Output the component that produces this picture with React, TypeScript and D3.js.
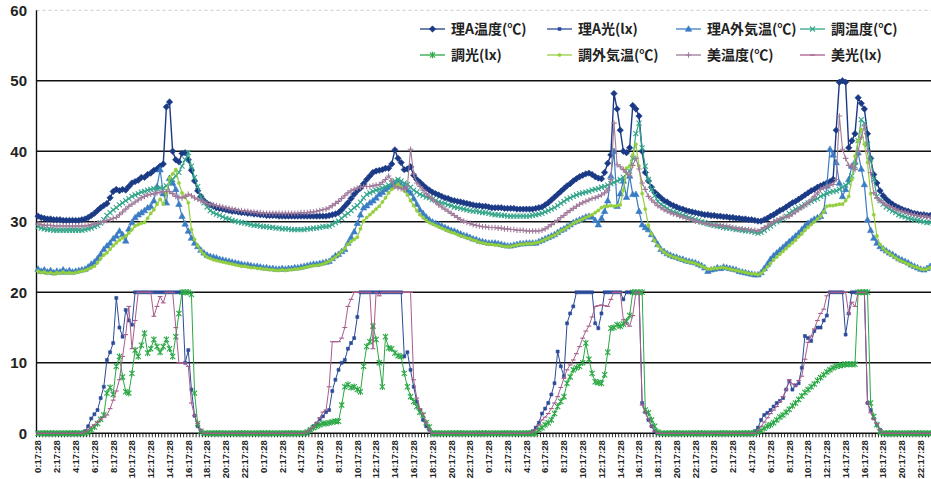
import * as d3 from 'd3';

const WIDTH = 931;
const HEIGHT = 479;

// x axis: one label every 2 hours, samples every 20 minutes, 4 days
const HOUR_LABELS = [
  '0:17:28', '2:17:28', '4:17:28', '6:17:28', '8:17:28', '10:17:28',
  '12:17:28', '14:17:28', '16:17:28', '18:17:28', '20:17:28', '22:17:28',
];
const DAYS = 4;
const SAMPLES_PER_LABEL = 6;
const Y_TICKS = [0, 10, 20, 30, 40, 50, 60];

// 理A温度(℃)
const riATemp = [
  30.8, 30.6, 30.5, 30.4, 30.4, 30.3, 30.3, 30.3, 30.2, 30.2,
  30.2, 30.2, 30.2, 30.2, 30.3, 30.4, 30.6, 30.9, 31.2, 31.6,
  32.0, 32.3, 32.6, 33.4, 34.3, 34.6, 34.4, 34.6, 34.5, 35.0,
  35.5, 35.7, 35.9, 36.3, 36.3, 36.7, 36.9, 37.3, 37.5, 37.9,
  38.2, 46.3, 47.0, 40.0, 38.8, 38.5, 39.7, 39.8, 38.8, 37.3,
  35.8, 34.4, 33.6, 33.0, 32.6, 32.4, 32.2, 32.0, 31.9, 31.8,
  31.7, 31.6, 31.5, 31.5, 31.4, 31.3, 31.3, 31.2, 31.2, 31.1,
  31.1, 31.0,
  31.0, 30.9, 30.9, 30.9, 30.9, 30.8, 30.8, 30.8, 30.8, 30.8,
  30.8, 30.8, 30.8, 30.8, 30.8, 30.8, 30.8, 30.8, 30.8, 30.8,
  30.8, 30.9, 31.0, 31.1, 31.3, 31.7, 32.2, 32.7, 33.3, 33.9,
  34.4, 34.8, 35.4, 36.0, 36.5, 37.0, 37.2, 37.3, 37.4, 37.6,
  37.6, 38.2, 40.2, 39.0, 38.4, 37.4, 37.5, 37.8, 36.6, 36.0,
  35.6, 35.2, 34.8, 34.5, 34.2, 34.0, 33.8, 33.6, 33.4, 33.3,
  33.1, 33.0, 32.9, 32.8, 32.7, 32.6, 32.5, 32.4, 32.3, 32.3,
  32.2, 32.2,
  32.1, 32.0, 32.0, 32.0, 32.0, 31.9, 31.9, 31.9, 31.9, 31.8,
  31.8, 31.8, 31.8, 31.8, 31.8, 31.9, 32.0, 32.1, 32.4, 32.7,
  33.1, 33.5, 33.9, 34.3, 34.7, 35.1, 35.4, 35.8, 36.1, 36.4,
  36.6, 36.8, 36.9, 36.7, 36.4, 36.2, 36.1, 37.0, 38.3, 39.5,
  48.2, 46.0, 43.0, 40.0, 39.8, 40.5, 46.5, 46.0, 45.0, 40.0,
  37.0, 35.8, 34.9, 34.2, 33.8, 33.4, 33.0, 32.8, 32.5, 32.3,
  32.1, 31.9, 31.8, 31.6, 31.5, 31.4, 31.3, 31.2, 31.1, 31.0,
  31.0, 30.9,
  30.9, 30.8, 30.8, 30.7, 30.7, 30.6, 30.6, 30.5, 30.5, 30.4,
  30.4, 30.3, 30.3, 30.2, 30.1, 30.1, 30.3, 30.5, 30.8, 31.0,
  31.3, 31.6, 31.8, 32.1, 32.4, 32.7, 32.9, 33.2, 33.5, 33.8,
  34.1, 34.4, 34.6, 34.9, 35.1, 35.3, 35.5, 35.7, 36.0, 43.0,
  49.8, 50.0, 49.8, 40.5, 41.5, 42.5, 47.6, 46.8, 46.0, 42.5,
  39.0, 36.7, 35.5, 34.4, 33.7, 33.2, 32.8, 32.5, 32.2, 32.0,
  31.8, 31.6, 31.5, 31.3, 31.2, 31.1, 31.0, 31.0, 30.9, 30.9,
  30.8, 30.8,
];

// 理A光(lx)
const riALight = [
  0, 0, 0, 0, 0, 0, 0, 0, 0, 0,
  0, 0, 0, 0, 0, 0.3, 1.0, 2.1, 2.7, 3.3,
  5.0, 6.6, 10.4, 11.5, 12.8, 19.2, 15.0, 13.7, 17.5, 16.0,
  15.4, 20, 20, 20, 20, 20, 20, 20, 20, 20,
  20, 20, 20, 20, 20, 20, 20, 10.0, 11.8, 6.2,
  2.5, 1.0, 0.3, 0, 0, 0, 0, 0, 0, 0,
  0, 0, 0, 0, 0, 0, 0, 0, 0, 0,
  0, 0,
  0, 0, 0, 0, 0, 0, 0, 0, 0, 0,
  0, 0, 0, 0, 0, 0.5, 1.0, 1.4, 2.0, 2.4,
  3.0, 3.3, 6.0, 7.6, 9.0, 10.0, 10.4, 12.0, 12.8, 13.5,
  16.5, 20, 20, 20, 20, 20, 20, 20, 20, 20,
  20, 20, 20, 20, 20, 10.9, 11.5, 9.0, 6.6, 4.5,
  3.3, 1.9, 1.0, 0.5, 0, 0, 0, 0, 0, 0,
  0, 0, 0, 0, 0, 0, 0, 0, 0, 0,
  0, 0,
  0, 0, 0, 0, 0, 0, 0, 0, 0, 0,
  0, 0, 0, 0, 0.3, 0.8, 1.5, 2.8, 3.5, 4.3,
  5.5, 7.1, 11.6, 9.5, 8.1, 15.6, 17.0, 18.0, 20, 20,
  20, 20, 20, 20, 15.6, 14.9, 17.0, 20, 20, 20,
  20, 20, 20, 19.0, 20, 20, 20, 20, 20, 4.3,
  3.0, 1.9, 1.0, 0.3, 0, 0, 0, 0, 0, 0,
  0, 0, 0, 0, 0, 0, 0, 0, 0, 0,
  0, 0,
  0, 0, 0, 0, 0, 0, 0, 0, 0, 0,
  0, 0, 0, 0.3, 0.8, 1.9, 2.6, 2.9, 3.3, 3.8,
  4.3, 4.6, 5.0, 6.2, 7.4, 6.2, 6.8, 7.1, 9.3, 13.8,
  13.5, 13.1, 14.5, 15.0, 15.0, 16.0, 16.7, 20, 20, 20,
  20, 20, 14.0, 17.0, 20, 20, 20, 20, 20, 4.3,
  3.3, 2.1, 1.2, 0.5, 0, 0, 0, 0, 0, 0,
  0, 0, 0, 0, 0, 0, 0, 0, 0, 0,
  0, 0,
];

// 理A外気温(℃)
const riAOutdoor = [
  23.3, 23.0, 23.2, 22.9, 23.1, 22.8, 23.0, 22.9, 23.2, 22.9,
  23.1, 22.9, 23.0, 23.1, 23.2, 23.3, 23.6, 24.0, 24.3, 24.8,
  25.4, 26.1, 26.6, 27.0, 27.6, 28.0, 28.7, 28.2, 27.3, 29.0,
  29.9, 30.6, 31.0, 31.3, 31.6, 32.0, 32.2, 33.0, 35.0, 37.4,
  34.0, 32.7, 36.2, 35.5, 34.6, 32.5, 30.8, 29.7, 28.7, 27.7,
  27.0, 26.5, 26.0, 25.6, 25.3, 25.1, 25.0, 24.9, 24.7, 24.6,
  24.5, 24.4, 24.3, 24.2, 24.1, 24.0, 23.9, 23.9, 23.8, 23.7,
  23.7, 23.6,
  23.5, 23.5, 23.4, 23.4, 23.3, 23.3, 23.4, 23.3, 23.4, 23.4,
  23.5, 23.5, 23.6, 23.7, 23.8, 23.9, 24.0, 24.0, 24.1, 24.2,
  24.3, 24.4, 24.8, 25.2, 25.4, 25.8, 26.1, 27.0, 27.8, 28.6,
  29.8, 31.0, 32.0, 32.3, 32.7, 33.0, 33.4, 33.9, 34.2, 34.6,
  34.9, 35.0, 35.3, 35.5, 35.2, 34.9, 34.5, 34.1, 33.3, 32.5,
  31.7, 31.2, 30.7, 30.3, 30.0, 29.8, 29.6, 29.4, 29.2, 29.0,
  28.8, 28.7, 28.5, 28.3, 28.1, 28.0, 27.8, 27.6, 27.5, 27.3,
  27.2, 27.1,
  27.0, 27.0, 27.0, 26.9, 26.8, 26.7, 26.6, 26.6, 26.7, 26.8,
  26.9, 26.9, 27.0, 27.0, 27.0, 27.0, 27.2, 27.4, 27.6, 27.8,
  28.0, 28.2, 28.5, 28.8, 29.0, 29.3, 29.6, 29.9, 30.1, 30.3,
  30.5, 30.7, 30.8, 30.7, 30.2, 29.6, 30.5, 31.5, 33.0, 36.5,
  40.0, 32.2, 34.0, 35.8, 33.5, 36.5, 33.9, 33.9, 31.5, 29.6,
  29.2, 28.9, 28.2, 27.5, 26.8, 26.1, 25.8, 25.5, 25.3, 25.1,
  25.0, 24.8, 24.7, 24.5, 24.4, 24.3, 24.2, 24.0, 23.8, 23.5,
  23.0, 23.2,
  23.3, 23.5, 23.4, 23.6, 23.5, 23.4, 23.3, 23.2, 23.0, 22.9,
  22.8, 22.7, 22.6, 22.5, 22.5, 22.8, 23.4, 24.0, 24.7, 25.2,
  25.6, 26.0, 26.4, 26.8, 27.2, 27.6, 28.0, 28.4, 28.9, 29.4,
  29.8, 30.1, 30.4, 30.6, 30.8, 31.5, 35.1, 40.3, 39.5, 38.4,
  35.5, 33.6, 34.6, 36.0, 37.9, 38.5, 39.8, 37.5, 35.3, 30.3,
  28.8, 27.7, 27.0, 26.5, 26.2, 25.9, 25.6, 25.4, 25.1, 24.8,
  24.6, 24.4, 24.2, 23.9, 23.7, 23.5, 23.3, 23.2, 23.4, 23.7,
  23.6, 23.8,
];

// 調温度(℃)
const choTemp = [
  29.3, 29.1, 29.0, 28.9, 28.9, 28.8, 28.8, 28.8, 28.8, 28.8,
  28.8, 28.8, 28.8, 28.8, 28.8, 28.9, 29.0, 29.1, 29.3, 29.5,
  29.8, 30.3, 30.9, 31.3, 31.7, 32.0, 32.4, 32.7, 33.0, 33.3,
  33.6, 33.8, 34.0, 34.2, 34.3, 34.5, 34.6, 34.7, 34.7, 34.8,
  34.8, 35.1, 35.6, 36.0, 36.5, 37.0, 37.9, 38.8, 39.8, 37.9,
  36.3, 35.0, 33.5, 32.7, 32.1, 31.6, 31.3, 31.1, 30.9, 30.7,
  30.5, 30.4, 30.2, 30.1, 30.0, 29.9, 29.8, 29.7, 29.6, 29.5,
  29.5, 29.4,
  29.3, 29.3, 29.2, 29.2, 29.1, 29.1, 29.0, 29.0, 29.0, 28.9,
  28.9, 28.9, 28.9, 28.9, 29.0, 29.0, 29.1, 29.1, 29.2, 29.3,
  29.3, 29.4, 29.6, 29.9, 30.1, 30.5, 30.9, 31.2, 31.6, 32.0,
  32.3, 32.8, 33.4, 33.9, 34.1, 34.3, 34.5, 34.6, 34.8, 35.0,
  35.2, 35.5, 35.8, 36.0, 35.8, 35.5, 35.3, 34.9, 34.5, 34.2,
  33.9, 33.7, 33.5, 33.4, 33.2, 33.0, 32.8, 32.7, 32.6, 32.4,
  32.3, 32.1, 32.0, 31.9, 31.8, 31.7, 31.6, 31.5, 31.5, 31.4,
  31.3, 31.3,
  31.2, 31.1, 31.0, 31.0, 30.9, 30.9, 30.8, 30.8, 30.8, 30.8,
  30.8, 30.8, 30.8, 30.8, 30.9, 31.0, 31.1, 31.2, 31.4, 31.6,
  31.8, 32.0, 32.3, 32.6, 32.9, 33.2, 33.4, 33.6, 33.8, 34.0,
  34.1, 34.2, 34.3, 34.5, 34.6, 34.7, 34.9, 35.0, 35.2, 35.4,
  35.6, 35.8, 36.0, 36.3, 36.8, 37.2, 39.0, 42.5, 44.0, 40.5,
  37.9, 36.0, 34.6, 33.7, 32.9, 32.5, 32.2, 31.9, 31.6, 31.4,
  31.3, 31.1, 30.9, 30.8, 30.6, 30.5, 30.3, 30.2, 30.0, 29.9,
  29.7, 29.6,
  29.5, 29.4, 29.3, 29.2, 29.1, 29.1, 29.0, 28.9, 28.9, 28.8,
  28.7, 28.7, 28.6, 28.5, 28.4, 28.5, 28.8, 29.1, 29.4, 29.7,
  30.0, 30.2, 30.4, 30.8, 31.2, 31.5, 31.8, 32.0, 32.2, 32.4,
  32.7, 32.9, 33.1, 33.3, 33.6, 33.8, 34.0, 34.2, 34.3, 34.4,
  34.6, 34.9, 35.2, 35.5, 36.5, 37.9, 41.5, 44.5, 44.0, 41.0,
  38.9, 36.0, 33.6, 33.0, 32.5, 32.1, 31.8, 31.5, 31.3, 31.0,
  30.8, 30.7, 30.5, 30.4, 30.3, 30.2, 30.1, 30.0, 29.9, 29.9,
  29.8, 29.8,
];

// 調光(lx)
const choLight = [
  0, 0, 0, 0, 0, 0, 0, 0, 0, 0,
  0, 0, 0, 0, 0, 0, 0.2, 0.5, 0.9, 1.4,
  2.0, 2.6, 5.7, 6.5, 5.5, 9.5, 10.9, 8.0, 5.9, 5.7,
  8.5, 11.8, 10.9, 12.5, 14.2, 11.4, 12.0, 13.3, 12.3, 11.5,
  12.3, 13.3, 12.0, 10.9, 13.7, 17.0, 20, 20, 20, 19.7,
  5.7, 1.4, 0.3, 0, 0, 0, 0, 0, 0, 0,
  0, 0, 0, 0, 0, 0, 0, 0, 0, 0,
  0, 0,
  0, 0, 0, 0, 0, 0, 0, 0, 0, 0,
  0, 0, 0, 0, 0.2, 0.5, 0.8, 1.0, 1.2, 1.4,
  1.4, 1.5, 1.6, 1.7, 1.7, 4.0, 6.6, 6.9, 6.5, 6.6,
  6.2, 5.9, 9.5, 12.3, 13.0, 15.2, 13.3, 10.0, 6.6, 13.7,
  12.1, 12.0, 11.4, 11.0, 10.9, 8.5, 6.6, 5.2, 4.5, 3.8,
  3.0, 2.6, 1.5, 0.9, 0, 0, 0, 0, 0, 0,
  0, 0, 0, 0, 0, 0, 0, 0, 0, 0,
  0, 0,
  0, 0, 0, 0, 0, 0, 0, 0, 0, 0,
  0, 0, 0, 0, 0, 0, 0.5, 0.8, 1.2, 1.5,
  1.9, 2.8, 3.8, 4.5, 5.2, 7.1, 8.0, 9.0, 9.3, 9.5,
  10.0, 12.8, 10.5, 8.5, 7.3, 7.2, 7.1, 8.3, 11.5, 14.9,
  15.0, 15.4, 15.2, 15.5, 15.9, 16.7, 20, 20, 20, 20,
  3.3, 2.9, 1.9, 1.0, 0.2, 0, 0, 0, 0, 0,
  0, 0, 0, 0, 0, 0, 0, 0, 0, 0,
  0, 0,
  0, 0, 0, 0, 0, 0, 0, 0, 0, 0,
  0, 0, 0, 0, 0.2, 0.4, 0.7, 1.0, 1.2, 1.5,
  1.9, 2.3, 2.6, 3.0, 3.4, 3.9, 4.3, 4.8, 5.3, 5.8,
  6.2, 6.6, 7.0, 7.5, 7.9, 8.3, 8.7, 9.0, 9.3, 9.5,
  9.6, 9.7, 9.8, 9.8, 9.8, 9.8, 20, 20, 20, 20,
  4.3, 2.4, 1.2, 0.2, 0, 0, 0, 0, 0, 0,
  0, 0, 0, 0, 0, 0, 0, 0, 0, 0,
  0, 0,
];

// 調外気温(℃)
const choOutdoor = [
  23.0, 22.8, 22.9, 22.7, 22.8, 22.6, 22.8, 22.7, 22.9, 22.7,
  22.8, 22.7, 22.8, 22.9, 23.0, 23.1, 23.3, 23.5, 23.7, 24.2,
  24.8, 25.3, 25.6, 26.1, 26.6, 27.0, 27.4, 27.7, 28.0, 28.4,
  28.9, 29.4, 29.6, 29.8, 29.9, 30.5, 31.2, 31.7, 32.5, 33.2,
  32.5, 34.0, 36.2, 36.8, 37.4, 35.5, 34.1, 33.5, 32.7, 28.9,
  27.5, 26.6, 25.9, 25.4, 25.0, 24.8, 24.6, 24.5, 24.4, 24.3,
  24.2, 24.1, 24.0, 23.9, 23.8, 23.7, 23.7, 23.6, 23.5, 23.5,
  23.4, 23.4,
  23.3, 23.3, 23.2, 23.2, 23.1, 23.1, 23.2, 23.1, 23.2, 23.2,
  23.3, 23.3, 23.4, 23.5, 23.6, 23.7, 23.8, 23.8, 23.9, 24.0,
  24.2, 24.4, 24.7, 25.0, 25.4, 25.8, 26.2, 26.8, 27.2, 27.5,
  27.8, 29.0, 30.1, 30.6, 31.0, 31.4, 31.8, 32.2, 32.8, 33.4,
  34.1, 34.6, 35.0, 35.3, 35.0, 34.4, 33.8, 33.0, 32.3, 31.6,
  31.0, 30.6, 30.2, 29.9, 29.7, 29.5, 29.3, 29.1, 28.9, 28.7,
  28.5, 28.4, 28.2, 28.0, 27.9, 27.7, 27.6, 27.4, 27.3, 27.1,
  27.0, 26.9,
  26.8, 26.8, 26.7, 26.7, 26.6, 26.5, 26.5, 26.5, 26.6, 26.7,
  26.8, 26.8, 26.9, 26.9, 26.9, 27.0, 27.1, 27.3, 27.5, 27.7,
  27.9, 28.1, 28.4, 28.7, 28.9, 29.2, 29.5, 29.8, 30.0, 30.2,
  30.4, 30.6, 30.8, 31.0, 31.3, 31.6, 32.0, 32.2, 32.2, 32.3,
  32.2, 32.3, 32.4, 34.5, 37.6, 37.9, 39.5, 41.0, 37.9, 34.0,
  31.8, 29.5, 28.3, 27.3, 26.6, 26.1, 25.7, 25.4, 25.2, 25.0,
  24.9, 24.7, 24.6, 24.4, 24.3, 24.2, 24.1, 23.9, 23.7, 23.5,
  23.3, 23.3,
  23.4, 23.4, 23.5, 23.5, 23.4, 23.3, 23.2, 23.1, 23.0, 22.9,
  22.8, 22.7, 22.6, 22.6, 22.5, 22.7, 23.1, 23.6, 24.1, 24.6,
  25.0, 25.4, 25.8, 26.2, 26.6, 27.0, 27.4, 27.9, 28.3, 28.8,
  29.2, 29.6, 30.0, 30.4, 30.8, 31.4, 32.2, 32.3, 32.3, 32.4,
  32.5, 32.5, 33.0, 33.6, 36.0, 39.3, 41.5, 43.1, 41.0, 38.4,
  34.0, 31.0, 28.0, 26.8, 26.2, 25.8, 25.5, 25.2, 24.9, 24.6,
  24.4, 24.2, 24.0, 23.8, 23.6, 23.5, 23.3, 23.2, 23.3, 23.5,
  23.4, 23.5,
];

// 美温度(℃)
const biTemp = [
  29.7, 29.6, 29.5, 29.5, 29.5, 29.4, 29.4, 29.4, 29.4, 29.4,
  29.4, 29.4, 29.4, 29.4, 29.4, 29.4, 29.5, 29.6, 29.7, 29.8,
  29.9, 30.0, 30.2, 30.3, 30.5, 30.6, 31.0, 31.4, 31.8, 32.2,
  32.5, 32.8, 33.1, 33.4, 33.6, 33.8, 33.9, 34.0, 34.1, 34.2,
  34.3, 34.3, 34.3, 34.0, 33.6, 33.5, 33.4, 33.6, 33.9, 33.7,
  33.4, 33.2, 33.0, 32.8, 32.6, 32.5, 32.4, 32.3, 32.2, 32.1,
  32.0, 31.9, 31.8, 31.7, 31.6, 31.6, 31.5, 31.5, 31.4, 31.4,
  31.3, 31.3,
  31.2, 31.2, 31.2, 31.2, 31.2, 31.2, 31.2, 31.2, 31.2, 31.2,
  31.2, 31.2, 31.3, 31.3, 31.3, 31.4, 31.4, 31.5, 31.6, 31.7,
  31.8, 32.0, 32.3, 32.6, 32.9, 33.3, 33.7, 34.1, 34.4, 34.6,
  34.8, 34.9, 35.0, 35.0, 35.0, 35.1, 35.2, 35.3, 35.6, 36.0,
  36.5, 35.8, 35.0, 34.8, 34.7, 34.6, 35.0, 40.3, 36.8, 35.5,
  35.0, 34.5, 34.0, 33.6, 33.2, 32.8, 32.4, 32.1, 31.8, 31.5,
  31.2, 30.9, 30.6, 30.3, 30.1, 29.9, 29.8, 29.6, 29.5, 29.4,
  29.3, 29.3,
  29.2, 29.2, 29.2, 29.1, 29.1, 29.0, 29.0, 28.9, 28.9, 28.8,
  28.8, 28.8, 28.7, 28.7, 28.7, 28.7, 28.7, 28.8, 29.0, 29.3,
  29.6, 29.9, 30.2, 30.6, 30.9, 31.3, 31.6, 31.9, 32.2, 32.5,
  32.7, 32.9, 33.1, 33.3, 33.4, 33.6, 33.8, 34.1, 34.5, 36.0,
  44.0, 38.1, 37.8, 37.4, 37.0, 36.5, 38.0, 39.0, 37.5, 35.5,
  34.6, 33.6, 33.1, 32.7, 32.3, 32.0, 31.7, 31.5, 31.3, 31.1,
  31.0, 30.8, 30.7, 30.5, 30.4, 30.3, 30.1, 30.0, 29.9, 29.8,
  29.7, 29.6,
  29.6, 29.5, 29.5, 29.4, 29.4, 29.3, 29.2, 29.1, 29.0, 29.0,
  28.9, 28.9, 28.8, 28.8, 28.7, 28.9, 29.2, 29.4, 29.7, 30.0,
  30.2, 30.4, 30.6, 30.7, 30.8, 31.1, 31.4, 31.7, 32.0, 32.4,
  32.7, 33.1, 33.6, 34.1, 34.6, 34.8, 35.0, 35.2, 35.3, 36.0,
  45.0, 40.3, 39.0, 38.0, 37.9, 37.4, 40.0, 42.0, 43.6, 40.0,
  37.0, 34.1, 33.4, 33.0, 32.7, 32.4, 32.2, 32.0, 31.8, 31.6,
  31.5, 31.4, 31.2, 31.1, 31.0, 30.9, 30.8, 30.8, 30.7, 30.6,
  30.6, 30.5,
];

// 美光(lx)
const biLight = [
  0, 0, 0, 0, 0, 0, 0, 0, 0, 0,
  0, 0, 0, 0, 0, 0.2, 0.5, 0.9, 1.2, 1.6,
  2.0, 2.3, 2.6, 3.5, 4.7, 6.0, 7.6, 10.9, 14.0, 18.0,
  12.0, 16.0, 20, 20, 20, 20, 20, 16.6, 18.0, 19.4,
  18.5, 20, 20, 20, 15.0, 10.0, 10.0, 10.0, 9.5, 4.3,
  2.5, 1.4, 0.5, 0, 0, 0, 0, 0, 0, 0,
  0, 0, 0, 0, 0, 0, 0, 0, 0, 0,
  0, 0,
  0, 0, 0, 0, 0, 0, 0, 0, 0, 0,
  0, 0, 0, 0, 0.3, 0.6, 0.9, 1.5, 2.2, 3.0,
  3.3, 6.6, 13.0, 13.0, 13.0, 13.5, 15.0, 18.0, 19.0, 20,
  20, 20, 20, 20, 20, 12.0, 20, 19.5, 20, 20,
  20, 20, 20, 20, 20, 20, 20, 20, 7.6, 5.0,
  3.5, 2.8, 1.5, 0.5, 0, 0, 0, 0, 0, 0,
  0, 0, 0, 0, 0, 0, 0, 0, 0, 0,
  0, 0,
  0, 0, 0, 0, 0, 0, 0, 0, 0, 0,
  0, 0, 0, 0, 0.2, 0.5, 1.2, 1.9, 2.3, 2.8,
  3.5, 4.3, 5.2, 6.5, 7.8, 9.0, 9.7, 10.4, 11.3, 12.3,
  13.5, 14.5, 15.2, 16.5, 18.0, 18.1, 18.2, 18.1, 18.0, 19.0,
  20, 20, 20, 16.1, 15.5, 15.2, 16.7, 20, 20, 4.0,
  3.0, 2.0, 1.0, 0.3, 0, 0, 0, 0, 0, 0,
  0, 0, 0, 0, 0, 0, 0, 0, 0, 0,
  0, 0,
  0, 0, 0, 0, 0, 0, 0, 0, 0, 0,
  0, 0, 0, 0, 0.4, 1.0, 1.6, 2.2, 2.8, 3.3,
  3.8, 4.5, 5.2, 6.2, 7.6, 7.0, 6.7, 7.5, 8.1, 10.5,
  12.9, 13.8, 14.8, 16.0, 17.0, 17.6, 19.5, 20, 20, 20,
  20, 20, 20, 16.9, 18.6, 18.0, 20, 20, 20, 4.3,
  2.9, 2.0, 1.4, 0.5, 0, 0, 0, 0, 0, 0,
  0, 0, 0, 0, 0, 0, 0, 0, 0, 0,
  0, 0,
];

type Marker = 'diamond' | 'square' | 'triangle' | 'cross' | 'star' | 'dot' | 'plus' | 'dash';

const SERIES: { name: string; values: number[]; color: string; marker: Marker; lw: number }[] = [
  { name: '理A温度(℃)', values: riATemp, color: '#1b3a86', marker: 'diamond', lw: 1.4 },
  { name: '理A光(lx)', values: riALight, color: '#2b4b98', marker: 'square', lw: 1 },
  { name: '理A外気温(℃)', values: riAOutdoor, color: '#3a7cc4', marker: 'triangle', lw: 1.2 },
  { name: '調温度(℃)', values: choTemp, color: '#34a58a', marker: 'cross', lw: 1.2 },
  { name: '調光(lx)', values: choLight, color: '#2aa845', marker: 'star', lw: 1 },
  { name: '調外気温(℃)', values: choOutdoor, color: '#94cf3e', marker: 'dot', lw: 1.2 },
  { name: '美温度(℃)', values: biTemp, color: '#a07a9a', marker: 'plus', lw: 1.1 },
  { name: '美光(lx)', values: biLight, color: '#a75d8c', marker: 'dash', lw: 1 },
];

const MARKER_PATH: Record<Marker, string> = {
  diamond: 'M0,-3.2L3.2,0L0,3.2L-3.2,0Z',
  square: 'M-1.5,-1.5h3v3h-3Z',
  triangle: 'M0,-3.3L3.2,2.3L-3.2,2.3Z',
  cross: 'M-2.5,-2.5L2.5,2.5M-2.5,2.5L2.5,-2.5',
  star: 'M-2.6,-2.6L2.6,2.6M-2.6,2.6L2.6,-2.6M0,-3.3V3.3',
  dot: 'M-1.6,0a1.6,1.6 0 1,0 3.2,0a1.6,1.6 0 1,0 -3.2,0',
  plus: 'M-2.8,0H2.8M0,-2.8V2.8',
  dash: 'M-2.4,0H2.4',
};
const FILLED: Marker[] = ['diamond', 'square', 'triangle', 'dot'];

// legend slots (2 rows x 4 columns)
const LEGEND_ROWS = [29, 55];
const LEGEND_COLS = [420, 547, 676, 800];

function MarkerGlyph({ m, color, x, y }: { m: Marker; color: string; x: number; y: number }) {
  const filled = FILLED.includes(m);
  return (
    <path
      d={MARKER_PATH[m]}
      transform={`translate(${x},${y})`}
      fill={filled ? color : 'none'}
      stroke={color}
      strokeWidth={filled ? 0.6 : 1.1}
    />
  );
}

export default function App() {
  const tickLabels = d3.range(DAYS).flatMap(() => HOUR_LABELS);
  const n = tickLabels.length * SAMPLES_PER_LABEL;

  const plotLeft = 36.5;
  const step = 3.13;
  const x = d3
    .scaleBand<number>()
    .domain(d3.range(n))
    .range([plotLeft, plotLeft + n * step])
    .padding(0);
  const cx = (i: number) => (x(i) ?? 0) + x.bandwidth() / 2;

  const y = d3.scaleLinear().domain([0, 60]).range([433.3, 10.3]);
  const y0 = y(0);

  const line = d3
    .line<number>()
    .x((_, i) => cx(i))
    .y((d) => y(d));

  const font = '"Liberation Sans", Arial, sans-serif';

  return (
    <svg
      width={WIDTH}
      height={HEIGHT}
      style={{ position: 'absolute', left: 0, top: 0, background: '#fff' }}
    >
      <rect width={WIDTH} height={HEIGHT} fill="#fff" />

      {/* top border at 60, faint */}
      <line x1={plotLeft} x2={WIDTH} y1={y(60)} y2={y(60)} stroke="#c8c8c8" strokeDasharray="3,3" />

      {/* gridlines */}
      {Y_TICKS.filter((t) => t > 0 && t < 60).map((t) => (
        <line key={t} x1={plotLeft} x2={WIDTH} y1={y(t)} y2={y(t)} stroke="#111" strokeWidth={1.4} />
      ))}

      {/* y axis labels */}
      {Y_TICKS.map((t) => (
        <text
          key={t}
          x={27}
          y={y(t)}
          dy="0.36em"
          textAnchor="end"
          fontFamily={font}
          fontWeight="bold"
          fontSize={15}
          fill="#222"
        >
          {t}
        </text>
      ))}

      {/* x axis ticks */}
      {d3.range(n + 1).map((k) => {
        const xx = plotLeft + k * step;
        return <line key={k} x1={xx} x2={xx} y1={y0} y2={y0 + 4} stroke="#111" strokeWidth={0.9} />;
      })}

      {/* x axis labels */}
      {tickLabels.map((lab, k) => (
        <text
          key={k}
          transform={`translate(${cx(k * SAMPLES_PER_LABEL)},${y0 + 7}) rotate(-90)`}
          dy="0.35em"
          textAnchor="end"
          fontFamily={font}
          fontWeight="bold"
          fontSize={9.5}
          fill="#222"
        >
          {lab}
        </text>
      ))}

      {/* axes */}
      <line x1={plotLeft} x2={plotLeft} y1={y(60)} y2={y0} stroke="#111" strokeWidth={1.4} />
      <line x1={plotLeft} x2={WIDTH} y1={y0} y2={y0} stroke="#111" strokeWidth={1.4} />

      {/* series */}
      {SERIES.map((s) => (
        <g key={s.name}>
          <path d={line(s.values) ?? ''} fill="none" stroke={s.color} strokeWidth={s.lw} />
          {s.values.map((v, i) => (
            <MarkerGlyph key={i} m={s.marker} color={s.color} x={cx(i)} y={y(v)} />
          ))}
        </g>
      ))}

      {/* legend */}
      {SERIES.map((s, k) => {
        const lx = LEGEND_COLS[k % 4];
        const ly = LEGEND_ROWS[Math.floor(k / 4)];
        return (
          <g key={s.name}>
            <line x1={lx} x2={lx + 25} y1={ly} y2={ly} stroke={s.color} strokeWidth={1.3} />
            <MarkerGlyph m={s.marker} color={s.color} x={lx + 12.5} y={ly} />
            <text
              x={lx + 31}
              y={ly}
              dy="0.36em"
              fontFamily='"Noto Sans CJK JP", sans-serif'
              fontWeight="bold"
              fontSize={14}
              fill="#222"
            >
              {s.name}
            </text>
          </g>
        );
      })}
    </svg>
  );
}
